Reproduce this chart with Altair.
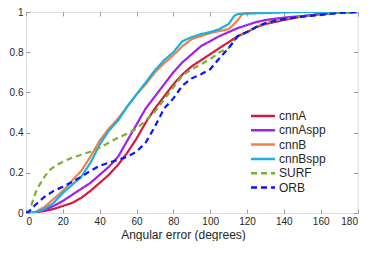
import altair as alt
import pandas as pd

series_names = ["cnnA", "cnnAspp", "cnnB", "cnnBspp", "SURF", "ORB"]
series_colors = ["#D7193F", "#A020F0", "#F47F4A", "#16B3DB", "#7BAE33", "#0A14FF"]

cnnA_x = [0, 3, 5, 10, 15, 20, 25, 30, 35, 40, 45, 50, 55, 60, 65, 70, 75, 80, 85, 90, 95, 100, 105, 110, 115, 120, 125, 130, 140, 150, 160, 170, 180]
cnnA_y = [0, 0, 0.003, 0.01, 0.02, 0.035, 0.05, 0.075, 0.11, 0.15, 0.19, 0.24, 0.30, 0.37, 0.45, 0.52, 0.58, 0.64, 0.69, 0.73, 0.76, 0.79, 0.82, 0.85, 0.88, 0.90, 0.925, 0.94, 0.96, 0.978, 0.99, 0.998, 1]

cnnAspp_x = [0, 3, 5, 10, 15, 20, 25, 30, 35, 40, 45, 50, 55, 60, 65, 70, 75, 80, 85, 90, 95, 100, 105, 110, 115, 120, 125, 130, 140, 150, 160, 170, 180]
cnnAspp_y = [0, 0, 0.005, 0.015, 0.035, 0.06, 0.09, 0.12, 0.15, 0.19, 0.23, 0.28, 0.36, 0.44, 0.52, 0.58, 0.64, 0.70, 0.75, 0.79, 0.83, 0.855, 0.88, 0.90, 0.92, 0.935, 0.95, 0.96, 0.972, 0.98, 0.99, 0.997, 1]

cnnB_x = [0, 3, 5, 10, 15, 20, 25, 30, 35, 40, 45, 50, 55, 60, 65, 70, 75, 80, 85, 90, 95, 100, 105, 110, 113, 115, 118, 120, 130, 140, 180]
cnnB_y = [0, 0, 0.005, 0.03, 0.07, 0.11, 0.16, 0.21, 0.28, 0.36, 0.42, 0.47, 0.53, 0.59, 0.64, 0.70, 0.745, 0.785, 0.83, 0.865, 0.88, 0.895, 0.905, 0.915, 0.94, 0.96, 0.995, 0.997, 0.998, 1, 1]

cnnBspp_x = [0, 3, 5, 10, 15, 20, 25, 30, 35, 40, 45, 50, 55, 60, 65, 70, 75, 80, 85, 90, 95, 100, 105, 110, 113, 115, 120, 130, 140, 150, 180]
cnnBspp_y = [0, 0, 0.003, 0.02, 0.05, 0.10, 0.14, 0.18, 0.25, 0.34, 0.41, 0.46, 0.53, 0.59, 0.65, 0.71, 0.76, 0.80, 0.855, 0.875, 0.89, 0.90, 0.915, 0.94, 0.98, 0.99, 0.992, 0.995, 0.998, 1, 1]

surf_x = [0, 2, 4, 6, 8, 10, 13, 16, 20, 25, 30, 35, 40, 45, 50, 55, 60, 65, 70, 75, 80, 85, 90, 95, 100, 105, 110, 115, 120, 125, 130, 140, 150, 160, 170, 180]
surf_y = [0, 0.01, 0.07, 0.12, 0.15, 0.18, 0.215, 0.235, 0.255, 0.275, 0.29, 0.305, 0.325, 0.35, 0.375, 0.395, 0.42, 0.46, 0.505, 0.565, 0.625, 0.685, 0.715, 0.74, 0.765, 0.80, 0.82, 0.88, 0.90, 0.925, 0.945, 0.965, 0.977, 0.985, 0.995, 1]

orb_x = [0, 2, 5, 10, 15, 20, 25, 30, 35, 40, 45, 50, 55, 60, 65, 70, 75, 80, 85, 90, 95, 100, 105, 110, 115, 120, 125, 130, 140, 150, 160, 170, 180]
orb_y = [0, 0.01, 0.04, 0.08, 0.11, 0.13, 0.155, 0.18, 0.21, 0.235, 0.25, 0.265, 0.28, 0.305, 0.35, 0.43, 0.52, 0.57, 0.635, 0.67, 0.69, 0.715, 0.77, 0.82, 0.88, 0.90, 0.925, 0.945, 0.965, 0.977, 0.985, 0.995, 1]

x_ticks = [0, 20, 40, 60, 80, 100, 120, 140, 160, 180]
y_ticks = [0, 0.2, 0.4, 0.6, 0.8, 1]

rows = []
for name, xs, ys in zip(series_names,
                        [cnnA_x, cnnAspp_x, cnnB_x, cnnBspp_x, surf_x, orb_x],
                        [cnnA_y, cnnAspp_y, cnnB_y, cnnBspp_y, surf_y, orb_y]):
    for i, (a, b) in enumerate(zip(xs, ys)):
        rows.append({"method": name, "err": a, "frac": b, "i": i})
df = pd.DataFrame(rows)

AX = "#9a9a9a"
LBL = "#262626"
FONT = "Liberation Sans"
TICK = alt.ExprRef(expr="-4")

x_scale = alt.Scale(domain=[0, 180], nice=False, zero=False)
y_scale = alt.Scale(domain=[0, 1], nice=False)

dash_range = [[1, 0], [1, 0], [1, 0], [1, 0], [6, 4], [6, 4]]


def make_legend():
    return alt.Legend(title=None, orient="none", legendX=231, legendY=98,
                      symbolType="M-3,0H3", symbolSize=64, symbolStrokeWidth=2.5,
                      labelFontSize=12, labelFont=FONT, labelColor=LBL,
                      rowPadding=2.3, labelOffset=10, padding=0)


main = alt.Chart(df).mark_line(strokeWidth=2.2, clip=True).encode(
    x=alt.X("err:Q", scale=x_scale,
            axis=alt.Axis(values=x_ticks, title="Angular error (degrees)", orient="bottom",
                          domain=False, tickColor=AX, tickSize=TICK, tickWidth=1,
                          labelPadding=7, labelFontSize=10, labelColor=LBL, labelFont=FONT,
                          grid=False, titleFont=FONT, titleFontSize=12, titleFontWeight="normal",
                          titleColor=LBL, titleX=157, titleY=21, titleBaseline="middle",
                          titleAnchor="start", titleAlign="center")),
    y=alt.Y("frac:Q", scale=y_scale,
            axis=alt.Axis(values=y_ticks, title=None, orient="left", format="~g",
                          domain=False, tickColor=AX, tickSize=TICK, tickWidth=1,
                          labelPadding=7, labelFontSize=10, labelColor=LBL, labelFont=FONT,
                          grid=False)),
    color=alt.Color("method:N", scale=alt.Scale(domain=series_names, range=series_colors),
                    legend=make_legend()),
    strokeDash=alt.StrokeDash("method:N", scale=alt.Scale(domain=series_names, range=dash_range),
                              legend=make_legend()),
    order=alt.Order("i:Q"),
)

frame = alt.Chart(df).mark_line(opacity=0).encode(
    x=alt.X("err:Q", scale=x_scale,
            axis=alt.Axis(values=x_ticks, title=None, orient="top", labels=False, domain=False,
                          tickColor=AX, tickSize=TICK, tickWidth=1, grid=False)),
    y=alt.Y("frac:Q", scale=y_scale,
            axis=alt.Axis(values=y_ticks, title=None, orient="right", labels=False, domain=False,
                          tickColor=AX, tickSize=TICK, tickWidth=1, grid=False)),
    detail="method:N",
)

chart = alt.layer(frame, main).resolve_scale(x="independent", y="independent").properties(
    width=331.5, height=201,
    autosize=alt.AutoSizeParams(type="none"),
    padding={"left": 18, "top": 4, "right": 8.5, "bottom": 28},
).configure_view(stroke=AX, strokeWidth=1.3).configure(background="white")

chart.save("out.html", embed_options={"renderer": "svg", "actions": False})
